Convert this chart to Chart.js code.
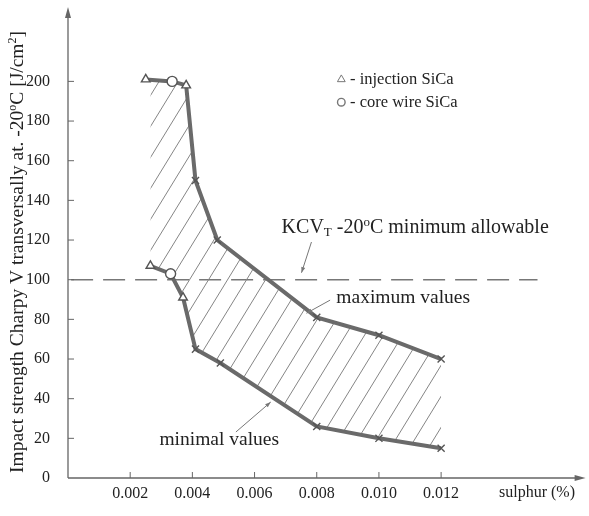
<!DOCTYPE html>
<html>
<head>
<meta charset="utf-8">
<script src="https://cdn.jsdelivr.net/npm/chart.js@4.4.1/dist/chart.umd.min.js"></script>
<style>
  html, body { margin: 0; padding: 0; background: #fff; }
  #wrap { width: 589px; height: 516px; }
</style>
</head>
<body>
<div id="wrap"><canvas id="impactChart"></canvas></div>
<script>
// tick labels
const sulphurTicks = [0.002, 0.004, 0.006, 0.008, 0.010, 0.012];
const impactTicks = [0, 20, 40, 60, 80, 100, 120, 140, 160, 180, 200];

// upper boundary (maximum values)
const maxSulphur = [0.0025, 0.00335, 0.0038, 0.0041, 0.0048, 0.008, 0.010, 0.012];
const maxImpact = [201, 200, 198, 150, 120, 81, 72, 60];
const maxMarkers = ['triangle', 'circle', 'triangle', 'crossRot', 'crossRot', 'crossRot', 'crossRot', 'crossRot'];

// lower boundary (minimal values)
const minSulphur = [0.00265, 0.0033, 0.0037, 0.0041, 0.0049, 0.008, 0.010, 0.012];
const minImpact = [107, 103, 91, 65, 58, 26, 20, 15];
const minMarkers = ['triangle', 'circle', 'triangle', 'crossRot', 'crossRot', 'crossRot', 'crossRot', 'crossRot'];

// KCV minimum allowable
const limitSulphur = [0.0001, 0.0151];
const limitImpact = [100, 100];

const serif = 'Liberation Serif, Times New Roman, serif';
const canvas = document.getElementById('impactChart');

function makeHatch() {
  const w = 19, h = 31;
  const tile = document.createElement('canvas');
  tile.width = w;
  tile.height = h;
  const g = tile.getContext('2d');
  g.strokeStyle = '#858585';
  g.lineWidth = 1;
  [-w, 0, w].forEach(o => {
    g.beginPath();
    g.moveTo(o, h);
    g.lineTo(o + w, 0);
    g.stroke();
  });
  return canvas.getContext('2d').createPattern(tile, 'repeat');
}

const toXY = (xs, ys) => xs.map((v, i) => ({x: v, y: ys[i]}));
const fillFor = m => (m === 'crossRot' ? 'rgba(0,0,0,0)' : '#fff');

function drawArrow(ctx, x1, y1, x2, y2, size) {
  ctx.beginPath();
  ctx.moveTo(x1, y1);
  ctx.lineTo(x2, y2);
  ctx.stroke();
  const a = Math.atan2(y2 - y1, x2 - x1);
  ctx.beginPath();
  ctx.moveTo(x2, y2);
  ctx.lineTo(x2 - size * Math.cos(a - 0.35), y2 - size * Math.sin(a - 0.35));
  ctx.lineTo(x2 - size * Math.cos(a + 0.35), y2 - size * Math.sin(a + 0.35));
  ctx.closePath();
  ctx.fill();
}

function richWidth(ctx, parts) {
  return parts.reduce((w, p) => { ctx.font = p.font; return w + ctx.measureText(p.t).width; }, 0);
}

function drawRich(ctx, parts, x, y) {
  parts.forEach(p => {
    ctx.font = p.font;
    ctx.fillText(p.t, x, y + (p.dy || 0));
    x += ctx.measureText(p.t).width;
  });
}

const annotate = {
  id: 'annotate',
  afterDraw(chart) {
    const {ctx, chartArea} = chart;
    const x = chart.scales.x, y = chart.scales.y;
    const px = v => x.getPixelForValue(v), py = v => y.getPixelForValue(v);
    const x0 = px(0), y0 = py(0);
    ctx.save();

    // axes with arrows
    ctx.strokeStyle = '#666';
    ctx.fillStyle = '#666';
    ctx.lineWidth = 1.3;
    ctx.beginPath();
    ctx.moveTo(x0, y0);
    ctx.lineTo(chartArea.right - 2, y0);
    ctx.moveTo(x0, y0);
    ctx.lineTo(x0, chartArea.top + 2);
    ctx.stroke();
    ctx.beginPath();
    ctx.moveTo(x0, chartArea.top - 3);
    ctx.lineTo(x0 - 3, chartArea.top + 8);
    ctx.lineTo(x0 + 3, chartArea.top + 8);
    ctx.closePath();
    ctx.fill();
    ctx.beginPath();
    ctx.moveTo(chartArea.right + 3, y0);
    ctx.lineTo(chartArea.right - 8, y0 - 3);
    ctx.lineTo(chartArea.right - 8, y0 + 3);
    ctx.closePath();
    ctx.fill();

    // inward tick marks
    ctx.lineWidth = 1;
    ctx.beginPath();
    impactTicks.forEach(v => {
      if (v === 0) return;
      ctx.moveTo(x0, py(v));
      ctx.lineTo(x0 + 6, py(v));
    });
    sulphurTicks.forEach(v => {
      ctx.moveTo(px(v), y0);
      ctx.lineTo(px(v), y0 - 6);
    });
    ctx.stroke();

    ctx.fillStyle = '#222';
    ctx.textBaseline = 'middle';
    ctx.textAlign = 'left';

    // y axis title
    const tf = '19.5px ' + serif, tfs = '12px ' + serif;
    const title = [
      {t: 'Impact strength Charpy V transversally at. -20', font: tf},
      {t: 'o', font: tfs, dy: -5},
      {t: 'C [J/cm', font: tf},
      {t: '2', font: tfs, dy: -5},
      {t: ']', font: tf}
    ];
    ctx.save();
    ctx.translate(18, (py(0) + py(236)) / 2 + 8);
    ctx.rotate(-Math.PI / 2);
    drawRich(ctx, title, -richWidth(ctx, title) / 2, 0);
    ctx.restore();

    // x axis title
    ctx.font = '16px ' + serif;
    ctx.fillText('sulphur (%)', 499, y0 + 15);

    // legend
    ctx.fillStyle = '#fff';
    ctx.strokeStyle = '#777';
    Chart.helpers.drawPoint(ctx, {pointStyle: 'triangle', radius: 4.5, borderWidth: 1.2}, px(0.00879), py(201));
    ctx.beginPath();
    ctx.arc(px(0.00879), py(189.5), 3.8, 0, Math.PI * 2);
    ctx.lineWidth = 1.4;
    ctx.stroke();
    ctx.fillStyle = '#222';
    ctx.font = '16.5px ' + serif;
    ctx.fillText('- injection SiCa', px(0.00907), py(201));
    ctx.fillText('- core wire SiCa', px(0.00907), py(189.5));

    // KCV label
    const f = '20px ' + serif, fs = '13px ' + serif;
    drawRich(ctx, [
      {t: 'KCV', font: f},
      {t: 'T', font: fs, dy: 4},
      {t: ' -20', font: f},
      {t: 'o', font: fs, dy: -6},
      {t: 'C minimum allowable', font: f}
    ], px(0.00687), py(126));

    ctx.font = '19.5px ' + serif;
    ctx.fillText('maximum values', px(0.00863), py(91));
    ctx.fillText('minimal values', px(0.00294), py(19));

    // leaders
    ctx.strokeStyle = '#777';
    ctx.fillStyle = '#777';
    ctx.lineWidth = 1;
    drawArrow(ctx, px(0.00783), py(119), px(0.00751), py(103.5), 6);
    drawArrow(ctx, px(0.00843), py(89.7), px(0.00767), py(83.1), 6);
    drawArrow(ctx, px(0.0054), py(23.2), px(0.00652), py(38.3), 6);
    ctx.restore();
  }
};

const hatch = makeHatch();

new Chart(canvas, {
  type: 'scatter',
  data: {
    datasets: [
      {
        label: 'maximum values',
        data: toXY(maxSulphur, maxImpact),
        showLine: true,
        borderColor: '#6a6a6a',
        borderWidth: 4,
        fill: false,
        pointStyle: maxMarkers,
        pointRadius: 5,
        pointBorderWidth: 1.4,
        pointBorderColor: '#555',
        pointBackgroundColor: maxMarkers.map(fillFor)
      },
      {
        label: 'minimal values',
        data: toXY(minSulphur, minImpact),
        showLine: true,
        borderColor: '#6a6a6a',
        borderWidth: 4,
        fill: '-1',
        backgroundColor: hatch,
        pointStyle: minMarkers,
        pointRadius: 5,
        pointBorderWidth: 1.4,
        pointBorderColor: '#555',
        pointBackgroundColor: minMarkers.map(fillFor)
      },
      {
        label: 'KCV minimum allowable',
        data: toXY(limitSulphur, limitImpact),
        showLine: true,
        borderColor: '#777',
        borderWidth: 1.5,
        borderDash: [22, 10],
        pointRadius: 0,
        fill: false
      }
    ]
  },
  options: {
    responsive: true,
    maintainAspectRatio: false,
    animation: false,
    layout: {padding: {top: 10, right: 4, left: 0, bottom: 0}},
    plugins: {
      legend: {display: false},
      tooltip: {enabled: false}
    },
    scales: {
      x: {
        type: 'linear',
        min: 0,
        max: 0.01655,
        grid: {display: false, drawTicks: false},
        border: {display: false},
        afterBuildTicks: s => { s.ticks = sulphurTicks.map(v => ({value: v})); },
        afterFit: s => { s.height = 38; s.paddingLeft = 0; s.paddingRight = 0; },
        ticks: {
          padding: 6,
          color: '#222',
          autoSkip: false,
          maxRotation: 0,
          font: {family: serif, size: 16},
          callback: v => v.toFixed(3)
        }
      },
      y: {
        min: 0,
        max: 236,
        grid: {display: false, drawTicks: false},
        border: {display: false},
        afterBuildTicks: s => { s.ticks = impactTicks.map(v => ({value: v})); },
        afterFit: s => { s.width = 68; s.paddingTop = 0; s.paddingBottom = 0; },
        ticks: {
          padding: 18,
          color: '#222',
          font: {family: serif, size: 16},
          callback: v => v
        }
      }
    }
  },
  plugins: [annotate]
});
</script>
</body>
</html>
